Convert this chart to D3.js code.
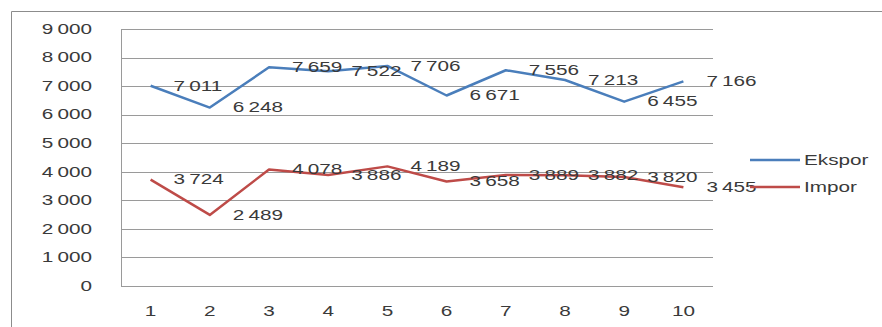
<!DOCTYPE html>
<html><head><meta charset="utf-8">
<script src="https://cdn.jsdelivr.net/npm/d3@7"></script>
<style>body{margin:0;background:#fff}svg{display:block}</style>
</head><body>
<script>
const categories = ["1","2","3","4","5","6","7","8","9","10"];
const ekspor = [7011, 6248, 7659, 7522, 7706, 6671, 7556, 7213, 6455, 7166];
const impor = [3724, 2489, 4078, 3886, 4189, 3658, 3889, 3882, 3820, 3455];
const yTicks = [0,1000,2000,3000,4000,5000,6000,7000,8000,9000];
const seriesNames = ["Ekspor","Impor"];
const seriesColors = ["#4a7ebb","#be4b48"];

const W=882,H=327;
const svg=d3.select("body").append("svg").attr("width",W).attr("height",H);
const m={left:121,right:713,top:29,bottom:286};
const x=d3.scaleBand().domain(categories).range([m.left,m.right]);
const y=d3.scaleLinear().domain([0,9000]).range([m.bottom,m.top]);
const fmt=v=>d3.format(",")(v).replace(/,/g,"\u2009");
const SX=1.48;
const font="Liberation Sans, Arial, sans-serif";
function txt(g,xx,yy,s,anchor,size,fill){
  return g.append("text").attr("transform",`translate(${xx},${yy}) scale(${SX},1)`)
   .attr("text-anchor",anchor).attr("dominant-baseline","central")
   .attr("font-family",font).attr("font-size",size).attr("fill",fill||"#3a3a3a").text(s);
}
// chart border
svg.append("path").attr("d",`M11.5,${H}V11.5H${W}`).attr("fill","none").attr("stroke","#8c8c8c").attr("stroke-width",1);
// gridlines
const grid=svg.append("g");
yTicks.forEach(t=>{
  grid.append("line").attr("x1",m.left).attr("x2",m.right).attr("y1",Math.round(y(t))+0.5).attr("y2",Math.round(y(t))+0.5)
   .attr("stroke","#9a9a9a").attr("stroke-width",1);
  txt(svg,92,y(t),fmt(t),"end",14);
});
svg.append("line").attr("x1",m.left+0.5).attr("x2",m.left+0.5).attr("y1",m.top).attr("y2",m.bottom).attr("stroke","#9a9a9a");
categories.forEach(c=>txt(svg,x(c)+x.bandwidth()/2,311,c,"middle",14));
const line=d3.line().x((d,i)=>x(categories[i])+x.bandwidth()/2).y(d=>y(d));
[ekspor,impor].forEach((s,k)=>{
  svg.append("path").datum(s).attr("d",line).attr("fill","none").attr("stroke",seriesColors[k]).attr("stroke-width",2.5).attr("stroke-linejoin","round");
});
[ekspor,impor].forEach((s,k)=>{
  s.forEach((v,i)=>txt(svg,x(categories[i])+x.bandwidth()/2+23,y(v),fmt(v),"start",14));
});
// legend
seriesNames.forEach((n,k)=>{
  const ly=[160,187][k];
  svg.append("line").attr("x1",750).attr("x2",800).attr("y1",ly).attr("y2",ly).attr("stroke",seriesColors[k]).attr("stroke-width",2.5);
  txt(svg,804,ly,n,"start",14);
});
</script>
</body></html>
